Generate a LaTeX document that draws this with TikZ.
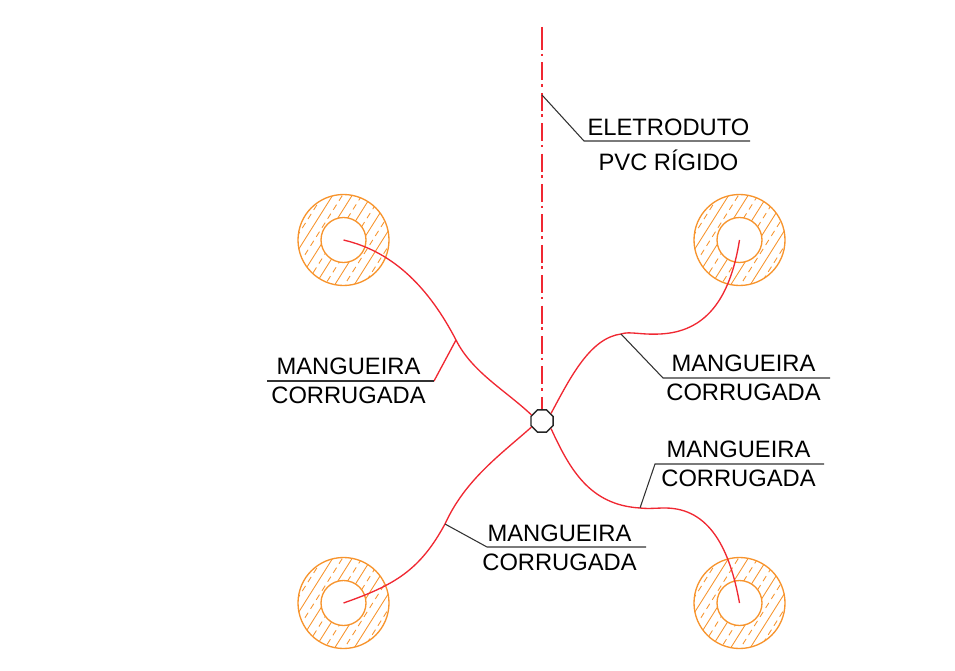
\documentclass[tikz,border=0pt]{standalone}
\usepackage{fontspec}
\setmainfont{Liberation Sans}
\usetikzlibrary{shapes.geometric}
\definecolor{ringor}{RGB}{247,148,45}
\definecolor{hoser}{RGB}{240,40,50}
\definecolor{lead}{RGB}{50,50,50}
\tikzset{
  hose/.style={draw=hoser,line width=1pt},
  axisstub/.style={draw=hoser,line width=1.1pt},
  axisline/.style={draw=hoser,line width=1.1pt,dash pattern=on 13.5pt off 2.7pt on 2pt off 4.6pt},
  leader/.style={draw=lead,line width=0.8pt},
  redleader/.style={draw=hoser,line width=1pt},
  ring/.style={draw=ringor,line width=1pt},
  hatchsolid/.style={draw=ringor,line width=0.65pt},
  hatchdash/.style={draw=ringor,line width=0.65pt,dash pattern=on 4.5pt off 3.5pt},
  lab/.style={font=\fontsize{17.8pt}{20pt}\selectfont,text=black,inner sep=0pt,anchor=center},
  junction/.style={draw=black!85,fill=white,line width=1.1pt,regular polygon,regular polygon sides=8,minimum size=17.9pt,inner sep=0pt}
}
\newcommand{\hatchring}[1]{%
  \begin{scope}[even odd rule]
    \clip (#1) circle[radius=45.5] (#1) circle[radius=22.5];
    \begin{scope}[shift={(#1)}]
      \foreach \o in {-49.5,-33,-16.5,0,16.5,33}{
        \draw[hatchsolid] (\o*.848-29,\o*.53+46) -- (\o*.848+29,\o*.53-46);
        \draw[hatchdash] (\o*.848+7-29,\o*.53+4.37+46) -- (\o*.848+7+29,\o*.53+4.37-46);
      }
    \end{scope}
  \end{scope}
  \draw[ring] (#1) circle[radius=45.5];
  \draw[ring] (#1) circle[radius=22.5];
}
\begin{document}
\begin{tikzpicture}[x=0.75pt,y=-0.75pt]
\useasboundingbox (0,0) rectangle (955,670);
\coordinate (c1) at (343.5,240);
\coordinate (c2) at (739.5,240);
\coordinate (c3) at (343.5,603);
\coordinate (c4) at (739.5,603);
\hatchring{c1}
\hatchring{c2}
\hatchring{c3}
\hatchring{c4}
\coordinate (top) at (542,27);
\coordinate (top2) at (542,32);
\coordinate (ta) at (542,95);
\coordinate (ha) at (456,340);
\coordinate (hb) at (621,334);
\coordinate (hc) at (445,524);
\coordinate (hd) at (640,508);
\node[junction] (jb) at (542,421) {};
\draw[axisstub] (top) -- (top2);
\draw[axisline] (top2) -- (jb.north -| top);
\draw[hose] (c1) .. controls (395,252) and (430,290) .. (ha) .. controls (472,372) and (505,390) .. (jb.150);
\draw[hose] (c2) .. controls (730,300) and (705,332) .. (660,334) .. controls (640,335) and (630,331) .. (hb) .. controls (590,338) and (570,378) .. (jb.40);
\draw[hose] (c3) .. controls (395,585) and (420,570) .. (hc) .. controls (465,480) and (500,455) .. (jb.210);
\draw[hose] (c4) .. controls (730,550) and (710,508) .. (665,508) .. controls (655,508) and (650,509) .. (hd) .. controls (590,505) and (570,470) .. (jb.320);
% labels
\coordinate (a1) at (434,381); \coordinate (a2) at (267,381);
\coordinate (b1) at (663,378); \coordinate (b2) at (830,378);
\coordinate (d1) at (487,547); \coordinate (d2) at (646,547);
\coordinate (e1) at (655,464); \coordinate (e2) at (824,464);
\coordinate (f1) at (584,141); \coordinate (f2) at (750,141);
\draw[leader] (ta) -- (f1) -- (f2);
\draw[redleader] (ha) -- (a1);
\draw[leader] (a1) -- (a2);
\draw[leader] (hb) -- (b1) -- (b2);
\draw[leader] (hc) -- (d1) -- (d2);
\draw[leader] (hd) -- (e1) -- (e2);
\node[lab] (t1) at (668.5,127) {ELETRODUTO};
\node[lab] (t2) at (668.5,160) {PVC RÍGIDO};
\node[lab] (t3) at (348.5,366) {MANGUEIRA};
\node[lab] (t4) at (348.5,395) {CORRUGADA};
\node[lab] (t5) at (743.5,363) {MANGUEIRA};
\node[lab] (t6) at (743.5,392) {CORRUGADA};
\node[lab] (t7) at (559.5,533) {MANGUEIRA};
\node[lab] (t8) at (559.5,562) {CORRUGADA};
\node[lab] (t9) at (738.5,449) {MANGUEIRA};
\node[lab] (t10) at (738.5,478) {CORRUGADA};
\end{tikzpicture}
\end{document}
